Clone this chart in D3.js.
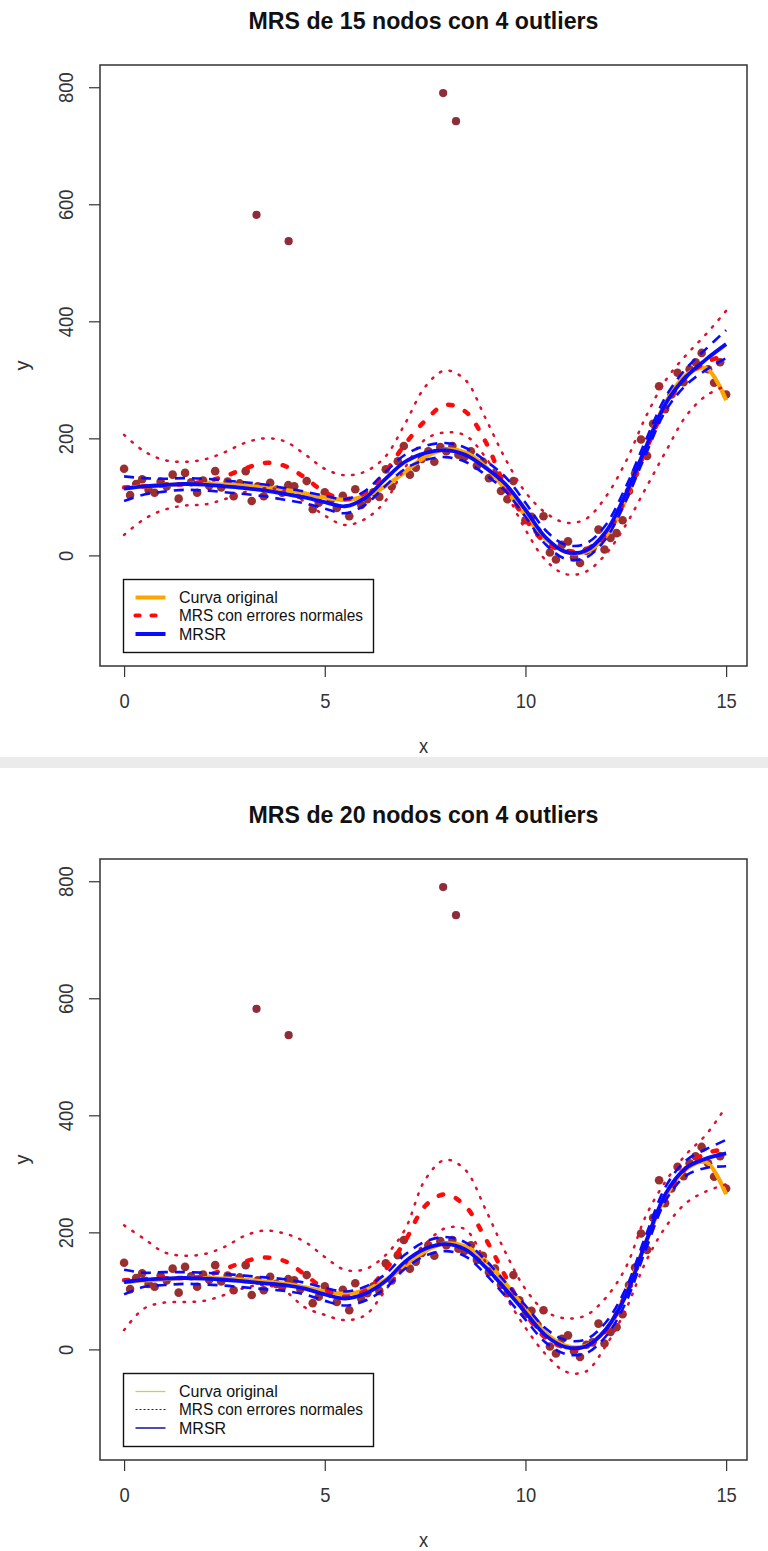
<!DOCTYPE html>
<html>
<head>
<meta charset="utf-8">
<script src="https://cdn.jsdelivr.net/npm/d3@7/dist/d3.min.js"></script>
<style>
  html, body { margin: 0; padding: 0; background: #fff; }
  svg { display: block; }
  text { font-family: "Liberation Sans", Arial, sans-serif; }
</style>
</head>
<body>
<svg id="chart" width="768" height="1551"></svg>
<script>
// Evaluation grid shared by every fitted curve
const xGrid = [0,0.5,1,1.5,2,2.5,3,3.5,4,4.5,5,5.5,6,6.5,7,7.5,8,8.5,9,9.5,10,10.5,11,11.5,12,12.5,13,13.5,14,14.5,15];

// Underlying true curve
const originalCurve = [115,118,120,122,122,121,119,116,112,106,99,95,101,118,143,168,181,176,152,113,68,28,6,6,33,95,183,262,308,320,265];

// 15 knots: spline fitted with normal errors, its band, robust fit and its band
const mrs15 = [116,118,120,122,126,135,148,158,153,133,108,96,107,142,190,230,257,246,195,118,62,22,8,10,35,98,180,255,305,330,342];
const mrs15Upper = [206,178,163,160,164,176,192,200,195,173,148,137,143,168,225,288,316,300,235,165,108,73,56,62,100,160,237,300,342,378,418];
const mrs15Lower = [35,62,78,85,87,96,108,115,110,92,68,52,62,92,150,198,210,205,168,110,44,-8,-32,-28,2,52,115,178,238,273,290];
const mrsr15 = [114,118,120,122,121,118,115,111,105,99,91,84,98,130,160,175,180,172,150,122,78,31,6,8,40,105,185,260,305,335,361];
const mrsr15Upper = [135,132,131,132,131,128,125,121,115,109,102,96,110,142,172,187,192,184,162,134,90,43,18,20,52,117,197,272,319,353,385];
const mrsr15Lower = [93,104,109,112,111,108,105,101,95,89,80,72,86,118,148,163,168,160,138,110,66,19,-6,-4,28,93,173,248,291,317,337];

// 20 knots: same four curves
const mrs20 = [118,120,122,122,125,137,150,157,151,128,103,90,100,135,185,245,265,245,190,125,62,20,3,5,32,95,185,262,310,335,342];
const mrs20Upper = [212,189,166,160,163,175,194,203,198,184,158,136,137,160,205,290,324,307,240,166,103,65,53,58,88,140,228,288,333,367,415];
const mrs20Lower = [33,70,80,81,83,93,105,110,100,72,59,50,58,100,145,180,207,205,150,91,37,-8,-38,-38,6,68,150,210,250,270,282];
const mrsr20 = [115,119,121,122,121,119,116,113,110,104,94,87,95,116,150,172,180,171,141,103,63,24,4,5,34,92,183,267,310,326,335];
const mrsr20Upper = [136,131,132,132,131,129,126,123,120,114,105,99,107,128,162,184,192,183,153,115,75,36,16,17,46,104,195,279,323,342,358];
const mrsr20Lower = [94,107,110,112,111,109,106,103,100,94,83,75,83,104,138,160,168,159,129,91,51,12,-8,-7,22,80,171,255,297,310,313];

// Observations
const pointX = [0.00,0.15,0.30,0.45,0.61,0.76,0.91,1.06,1.21,1.36,1.52,1.67,1.82,1.97,2.12,2.27,2.42,2.58,2.73,2.88,
  3.03,3.18,3.33,3.48,3.64,3.79,3.94,4.09,4.24,4.39,4.55,4.70,4.85,5.00,5.15,5.30,5.45,5.61,5.76,5.91,
  6.06,6.21,6.36,6.52,6.67,6.82,6.97,7.12,7.27,7.42,7.58,7.73,7.88,8.03,8.18,8.33,8.48,8.64,8.79,8.94,
  9.09,9.24,9.39,9.55,9.70,9.85,10.00,10.15,10.30,10.45,10.61,10.76,10.91,11.06,11.21,11.36,11.52,11.67,11.82,11.97,
  12.12,12.27,12.42,12.58,12.73,12.88,13.03,13.18,13.33,13.48,13.64,13.79,13.94,14.09,14.24,14.39,14.55,14.70,14.85,15.00];
const pointY = [148,103,122,130,112,107,126,118,138,97,141,125,107,128,119,144,116,126,101,123,
  144,93,118,101,124,112,107,120,118,103,127,79,90,108,95,81,102,67,113,86,
  96,108,100,147,118,161,187,138,150,165,178,160,185,178,187,172,168,178,153,160,
  132,138,110,96,127,84,60,66,42,67,5,-7,18,24,-3,-13,8,12,44,10,
  30,38,60,110,140,198,170,225,289,250,275,312,296,318,330,346,318,295,330,275];
// Four contaminating observations
const outlierX = [3.3, 4.1, 7.95, 8.27];
const outlierY = [582, 537, 790, 742];

// Axis ticks and texts
const xTicks = [0, 5, 10, 15];
const yTicks = [0, 200, 400, 600, 800];
const legendLabels = ["Curva original", "MRS con errores normales", "MRSR"];
const titles = ["MRS de 15 nodos con 4 outliers", "MRS de 20 nodos con 4 outliers"];

const svg = d3.select("#chart");
svg.append("rect").attr("width", 768).attr("height", 1551).attr("fill", "#fff");
// strip separating the two figures
svg.append("rect").attr("x", 0).attr("y", 757).attr("width", 768).attr("height", 11).attr("fill", "#ebebeb");

const COL = {
  orange: "#ffa500",
  red: "#ff0a0a",
  band: "#dc1030",
  blue: "#0a0aff",
  point: "#9a2f30"
};

// slightly condensed lettering for tick and axis texts
const squeeze = "scale(0.92,1)";

function drawPanel(top, title, fit, fitUp, fitLo, rob, robUp, robLo, thinLegend) {
  const g = svg.append("g").attr("transform", `translate(0,${top})`);
  const x = d3.scaleLinear().domain([-0.6, 15.52]).range([100, 747]);
  const y = d3.scaleLinear().domain([-189, 838]).range([601, 0]);
  const plotTop = 65;
  const inner = g.append("g").attr("transform", `translate(0,${plotTop})`);

  const clipId = "clip" + top;
  inner.append("clipPath").attr("id", clipId)
    .append("rect").attr("x", 100).attr("y", 0).attr("width", 647).attr("height", 601);
  const plot = inner.append("g").attr("clip-path", `url(#${clipId})`);

  // observations
  const pts = pointX.map((v, i) => [v, pointY[i]]);
  plot.selectAll("circle.pt").data(pts).join("circle").attr("class", "pt")
    .attr("cx", d => x(d[0])).attr("cy", d => y(d[1])).attr("r", 4.3)
    .attr("fill", COL.point);
  const outs = outlierX.map((v, i) => [v, outlierY[i]]);
  plot.selectAll("circle.out").data(outs).join("circle").attr("class", "out")
    .attr("cx", d => x(d[0])).attr("cy", d => y(d[1])).attr("r", 4.1)
    .attr("fill", "#8e2c3a");

  const line = d3.line().x(d => x(d[0])).y(d => y(d[1])).curve(d3.curveCatmullRom.alpha(0.5));
  const pair = arr => xGrid.map((v, i) => [v, arr[i]]);
  const path = (arr, stroke, w, dash, cap) => plot.append("path")
    .attr("d", line(pair(arr))).attr("fill", "none").attr("stroke", stroke)
    .attr("stroke-width", w).attr("stroke-dasharray", dash || null)
    .attr("stroke-linecap", cap || "butt").attr("stroke-linejoin", "round");

  path(originalCurve, COL.orange, 4.2);
  path(fit, COL.red, 4.5, "4.5,13.5", "round");
  path(fitUp, COL.band, 2.5, "1.5,8.5", "round");
  path(fitLo, COL.band, 2.5, "1.5,8.5", "round");
  path(rob, COL.blue, 3.8);
  path(robUp, COL.blue, 2.6, "10,7");
  path(robLo, COL.blue, 2.6, "10,7");

  // axes
  const ax = inner.append("g").attr("transform", "translate(0,601)")
    .call(d3.axisBottom(x).tickValues(xTicks).tickSize(11).tickSizeOuter(0));
  ax.select(".domain").remove();
  ax.selectAll("line").attr("stroke", "#333").attr("stroke-width", 1.2);
  ax.selectAll("text").attr("y", 0).attr("dy", 0).attr("transform", `translate(0,42) ${squeeze}`)
    .attr("font-size", 20).attr("fill", "#333")
    .attr("font-family", "'Liberation Sans', Arial, sans-serif");

  const ay = inner.append("g").attr("transform", "translate(100,0)")
    .call(d3.axisLeft(y).tickValues(yTicks).tickSize(11).tickSizeOuter(0));
  ay.select(".domain").remove();
  ay.selectAll("line").attr("stroke", "#333").attr("stroke-width", 1.2);
  ay.selectAll("text").attr("x", 0).attr("dy", "0.35em").attr("text-anchor", "middle")
    .attr("transform", "translate(-34,0) rotate(-90) scale(0.92,1)")
    .attr("font-size", 20).attr("fill", "#333")
    .attr("font-family", "'Liberation Sans', Arial, sans-serif");

  // frame
  inner.append("rect").attr("x", 100).attr("y", 0).attr("width", 647).attr("height", 601)
    .attr("fill", "none").attr("stroke", "#333").attr("stroke-width", 1.5);

  // titles and axis names
  g.append("text").attr("x", 423.5).attr("y", 28.5).attr("text-anchor", "middle")
    .attr("font-size", 24).attr("font-weight", "bold").attr("fill", "#111")
    .attr("textLength", 350).attr("lengthAdjust", "spacingAndGlyphs").text(title);
  g.append("text").attr("transform", `translate(423.5,753) ${squeeze}`).attr("text-anchor", "middle")
    .attr("font-size", 20).attr("fill", "#333").text("x");
  g.append("text").attr("transform", "translate(29,365.5) rotate(-90)").attr("text-anchor", "middle")
    .attr("font-size", 20).attr("fill", "#333").text("y");

  // legend
  const lg = g.append("g").attr("transform", "translate(123.5,579.5)");
  lg.append("rect").attr("width", 250).attr("height", 73).attr("fill", "#fff")
    .attr("stroke", "#111").attr("stroke-width", 1.4);
  const rows = [18, 36, 54.5];
  const styles = thinLegend
    ? [{ c: "#d8c75e", w: 1.3, d: null }, { c: "#22224a", w: 1.1, d: "2,2" }, { c: "#2020a0", w: 1.6, d: null }]
    : [{ c: COL.orange, w: 4, d: null }, { c: COL.red, w: 4.2, d: "4,12", cap: "round" }, { c: COL.blue, w: 4, d: null }];
  legendLabels.forEach((lab, i) => {
    lg.append("line").attr("x1", 12).attr("x2", 42).attr("y1", rows[i]).attr("y2", rows[i])
      .attr("stroke", styles[i].c).attr("stroke-width", styles[i].w)
      .attr("stroke-dasharray", styles[i].d).attr("stroke-linecap", styles[i].cap || "butt");
    const t = lg.append("text").attr("x", 55.5).attr("y", rows[i] + 5.5).attr("font-size", 16)
      .attr("fill", "#111").text(lab);
    if (i === 1) t.attr("textLength", 184).attr("lengthAdjust", "spacingAndGlyphs");
  });
}

drawPanel(0, titles[0], mrs15, mrs15Upper, mrs15Lower, mrsr15, mrsr15Upper, mrsr15Lower, false);
drawPanel(794, titles[1], mrs20, mrs20Upper, mrs20Lower, mrsr20, mrsr20Upper, mrsr20Lower, true);
</script>
</body>
</html>
